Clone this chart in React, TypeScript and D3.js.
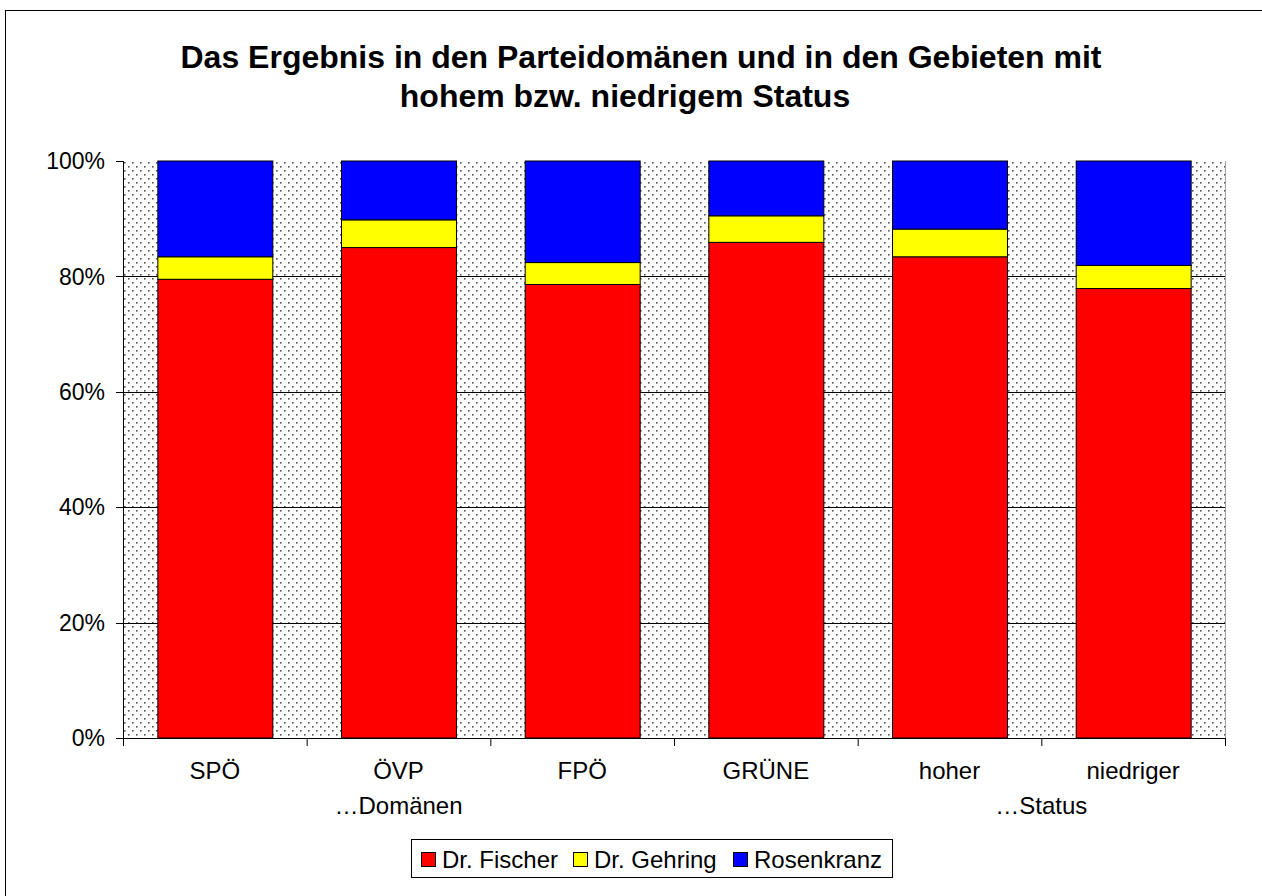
import React from "react";
import * as d3 from "d3";

// values (percent of valid votes)
const categories = ["SPÖ", "ÖVP", "FPÖ", "GRÜNE", "hoher", "niedriger"];
const fischer = [79.5, 85.0, 78.6, 85.9, 83.4, 77.9];
const gehring = [3.9, 4.8, 3.8, 4.6, 4.8, 4.0];
const rosenkranz = [16.6, 10.2, 17.6, 9.5, 11.8, 18.1];
const seriesNames = ["Dr. Fischer", "Dr. Gehring", "Rosenkranz"];
const seriesColors = ["#ff0000", "#ffff00", "#0000ff"];
const yTicks = [0, 0.2, 0.4, 0.6, 0.8, 1];
// group labels under the categories: [label, category, where]
const groupLabels: [string, string, "center" | "start"][] = [
  ["…Domänen", "ÖVP", "center"],
  ["…Status", "niedriger", "start"],
];
const titleLines = [
  "Das Ergebnis in den Parteidomänen und in den Gebieten mit",
  "hohem bzw. niedrigem Status",
];

const W = 1262;
const H = 896;
const font = "'Liberation Sans', Arial, Helvetica, sans-serif";

export default function App() {
  const plot = { left: 123, right: 1225, top: 161, bottom: 738 };

  const rows = categories.map((c, i) => ({
    cat: c,
    "Dr. Fischer": fischer[i],
    "Dr. Gehring": gehring[i],
    Rosenkranz: rosenkranz[i],
  }));
  const stacked = d3
    .stack<any>()
    .keys(seriesNames)
    .offset(d3.stackOffsetExpand)(rows);

  const x = d3
    .scaleBand()
    .domain(categories)
    .range([plot.left, plot.right])
    .paddingInner(0.374)
    .paddingOuter(0.187);
  const y = d3.scaleLinear().domain([0, 1]).range([plot.bottom, plot.top]);
  const step = x.step();
  const bandStart = (c: string) => (x(c) as number) - step * 0.187;
  const boundaries = categories.map(bandStart).concat([plot.right]);
  const pct = d3.format(".0%");

  const legendX = [421, 573, 733];

  return (
    <svg
      width={W}
      height={H}
      style={{ position: "absolute", left: 0, top: 0, background: "#fff" }}
      fontFamily={font}
    >
      <defs>
        <pattern id="dots" width="8" height="8" patternUnits="userSpaceOnUse" x={plot.left} y={plot.top}>
          <rect width="8" height="8" fill="#ffffff" />
          <rect x="1" y="1" width="1.6" height="1.6" fill="#555" />
          <rect x="5" y="5" width="1.6" height="1.6" fill="#555" />
        </pattern>
      </defs>

      {/* outer frame */}
      <rect x={5.5} y={10.5} width={W + 20} height={H + 20} fill="#fff" stroke="#000" />

      {/* title */}
      <text x={641} y={68} textAnchor="middle" fontSize={32} fontWeight="bold">
        {titleLines[0]}
      </text>
      <text x={625} y={107} textAnchor="middle" fontSize={32} fontWeight="bold">
        {titleLines[1]}
      </text>

      {/* plot area */}
      <rect
        x={plot.left}
        y={plot.top}
        width={plot.right - plot.left}
        height={plot.bottom - plot.top}
        fill="url(#dots)"
      />
      <line x1={plot.right + 0.5} x2={plot.right + 0.5} y1={plot.top} y2={plot.bottom} stroke="#a0a0a0" />
      {yTicks
        .filter((t) => t > 0 && t < 1)
        .map((t) => (
          <line
            key={t}
            x1={plot.left}
            x2={plot.right}
            y1={Math.round(y(t)) + 0.5}
            y2={Math.round(y(t)) + 0.5}
            stroke="#000"
          />
        ))}

      {/* bars */}
      {stacked.map((s, si) => (
        <g key={s.key} fill={seriesColors[si]} stroke="#000" strokeWidth={1}>
          {s.map((d, i) => (
            <rect
              key={categories[i]}
              x={(x(categories[i]) as number) + 0.5}
              y={y(d[1])}
              width={x.bandwidth()}
              height={y(d[0]) - y(d[1])}
            />
          ))}
        </g>
      ))}

      {/* y axis */}
      <line x1={plot.left + 0.5} x2={plot.left + 0.5} y1={plot.top} y2={plot.bottom} stroke="#000" />
      {yTicks.map((t) => (
        <g key={t}>
          <line
            x1={plot.left - 7}
            x2={plot.left}
            y1={Math.round(y(t)) + 0.5}
            y2={Math.round(y(t)) + 0.5}
            stroke="#000"
          />
          <text x={105} y={y(t)} dy="0.36em" textAnchor="end" fontSize={23}>
            {pct(t)}
          </text>
        </g>
      ))}

      {/* x axis */}
      <line x1={plot.left} x2={plot.right} y1={plot.bottom + 0.5} y2={plot.bottom + 0.5} stroke="#000" />
      {boundaries.map((b, i) => (
        <line key={i} x1={b + 0.5} x2={b + 0.5} y1={plot.bottom} y2={plot.bottom + 8} stroke="#000" />
      ))}
      {categories.map((c) => (
        <text key={c} x={(x(c) as number) + x.bandwidth() / 2} y={779} textAnchor="middle" fontSize={24}>
          {c}
        </text>
      ))}
      {groupLabels.map(([label, cat, where]) => (
        <text
          key={label}
          x={where === "center" ? (x(cat) as number) + x.bandwidth() / 2 : bandStart(cat)}
          y={814}
          textAnchor="middle"
          fontSize={24}
        >
          {label}
        </text>
      ))}

      {/* legend */}
      <rect x={411.5} y={839.5} width={481} height={38} fill="#fff" stroke="#000" />
      {seriesNames.map((n, i) => (
        <g key={n}>
          <rect x={legendX[i] + 0.5} y={852.5} width={14} height={14} fill={seriesColors[i]} stroke="#000" />
          <text x={legendX[i] + 21} y={868} fontSize={24}>
            {n}
          </text>
        </g>
      ))}
    </svg>
  );
}
